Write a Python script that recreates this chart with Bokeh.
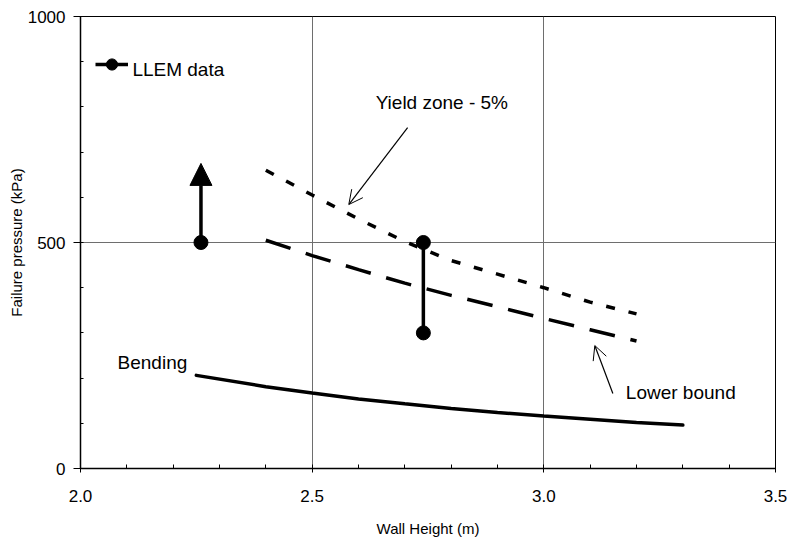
from bokeh.plotting import figure
from bokeh.embed import file_html
from bokeh.resources import INLINE
from bokeh.models import (Range1d, FixedTicker, NumeralTickFormatter, Label, Arrow,
                          NormalHead, OpenHead, Legend, LegendItem)

# ---- data ----
h_bend = [2.25, 2.4, 2.5, 2.6, 2.7, 2.8, 2.9, 3.0, 3.1, 3.2, 3.3]
p_bend = [206, 181, 167, 154, 143, 133, 124, 116, 109, 102, 96]

h_yield = [2.4, 2.5, 2.6, 2.7, 2.8, 2.9, 3.0, 3.1, 3.2]
p_yield = [660, 605, 552, 502, 460, 430, 400, 368, 342]

h_lower = [2.4, 2.5, 2.6, 2.7, 2.8, 2.9, 3.0, 3.1, 3.2]
p_lower = [505, 471, 440, 410, 383, 358, 332, 307, 282]

llem_h = [2.26, 2.74, 2.74]
llem_p = [500, 500, 300]
range_h = [2.74]
range_low = [300]
range_high = [500]
arrow_h = [2.26]
arrow_from = [500]
arrow_to = [675]

x_ticks = [2.0, 2.5, 3.0, 3.5]
x_minor = [2.1, 2.2, 2.3, 2.4, 2.6, 2.7, 2.8, 2.9, 3.1, 3.2, 3.3, 3.4]
y_ticks = [0, 500, 1000]
y_minor = [100, 200, 300, 400, 600, 700, 800, 900]

FONT = "Liberation Sans"

p = figure(width=789, height=540, x_range=Range1d(2.0, 3.5), y_range=Range1d(0, 1000),
           output_backend="svg", toolbar_location=None,
           min_border_left=80, min_border_right=14, min_border_top=16, min_border_bottom=72)
p.background_fill_color = "white"
p.border_fill_color = "white"
p.outline_line_color = "black"
p.outline_line_width = 1

# axes
p.xaxis.ticker = FixedTicker(ticks=x_ticks, minor_ticks=x_minor)
p.yaxis.ticker = FixedTicker(ticks=y_ticks, minor_ticks=y_minor)
p.xaxis.formatter = NumeralTickFormatter(format="0.0")
for ax in (p.xaxis, p.yaxis):
    ax.axis_line_color = "black"
    ax.axis_line_width = 1.5
    ax.major_tick_line_color = "black"
    ax.minor_tick_line_color = "black"
    ax.major_tick_line_width = 1
    ax.minor_tick_line_width = 1
    ax.major_label_text_font = FONT
    ax.major_label_text_font_size = "17px"
    ax.major_label_text_color = "black"
    ax.axis_label_text_font = FONT
    ax.axis_label_text_font_size = "15px"
    ax.axis_label_text_font_style = "normal"
    ax.axis_label_text_color = "black"
p.xaxis.major_tick_in = 4
p.xaxis.major_tick_out = 4
p.xaxis.minor_tick_in = 4
p.xaxis.minor_tick_out = 0
p.xaxis.major_label_standoff = 17
p.xaxis.axis_label_standoff = 15
p.yaxis.major_tick_in = 3
p.yaxis.major_tick_out = 7
p.yaxis.minor_tick_in = 3
p.yaxis.minor_tick_out = 0
p.yaxis.major_label_standoff = 8
p.yaxis.axis_label_standoff = 0
p.xaxis.axis_label = "Wall Height (m)"
p.yaxis.axis_label = "Failure pressure (kPa)"

# grids
p.xgrid.ticker = FixedTicker(ticks=[2.5, 3.0])
p.ygrid.ticker = FixedTicker(ticks=[500])
p.xgrid.grid_line_color = "#6e6e6e"
p.ygrid.grid_line_color = "#6e6e6e"
p.xgrid.grid_line_width = 1
p.ygrid.grid_line_width = 1

# curves
p.line(h_bend, p_bend, line_color="black", line_width=3.5, line_cap="round")
p.line(h_yield, p_yield, line_color="black", line_width=3.5, line_dash="9 14")
p.line(h_lower, p_lower, line_color="black", line_width=3.5, line_dash="26 16")

# LLEM data
seg = p.segment(x0=range_h, y0=range_low, x1=range_h, y1=range_high,
                line_color="black", line_width=3.5)
p.add_layout(Arrow(end=NormalHead(size=22, fill_color="black", line_color="black"),
                   x_start=arrow_h[0], y_start=arrow_from[0],
                   x_end=arrow_h[0], y_end=arrow_to[0],
                   line_color="black", line_width=3.5))
circ = p.scatter(llem_h, llem_p, marker="circle", size=14, fill_color="black", line_color="black")

# legend glyph (label text drawn separately, slightly lower as in the original)
legend = Legend(items=[LegendItem(label=" ", renderers=[seg, circ])],
                location=(15, 390), glyph_width=33, glyph_height=28, label_height=28,
                label_standoff=0, padding=0, margin=0, spacing=0,
                border_line_alpha=0, background_fill_alpha=0,
                label_text_font=FONT, label_text_font_size="6px", label_text_color="black")
p.add_layout(legend)

# annotations
def lab(x, y, t):
    p.add_layout(Label(x=x, y=y, text=t, text_font=FONT, text_font_size="19px",
                       text_color="black", text_baseline="middle", text_align="left"))

lab(2.112, 883, "LLEM data")
lab(2.637, 810, "Yield zone - 5%")
lab(3.177, 168, "Lower bound")
lab(2.08, 235, "Bending")

p.add_layout(Arrow(end=OpenHead(size=14, line_width=1, line_color="black"),
                   x_start=2.706, y_start=754, x_end=2.579, y_end=584,
                   line_color="black", line_width=1.2))
p.add_layout(Arrow(end=OpenHead(size=14, line_width=1, line_color="black"),
                   x_start=3.149, y_start=166, x_end=3.110, y_end=272,
                   line_color="black", line_width=1.2))

open("out.html", "w").write(file_html(p, INLINE))
